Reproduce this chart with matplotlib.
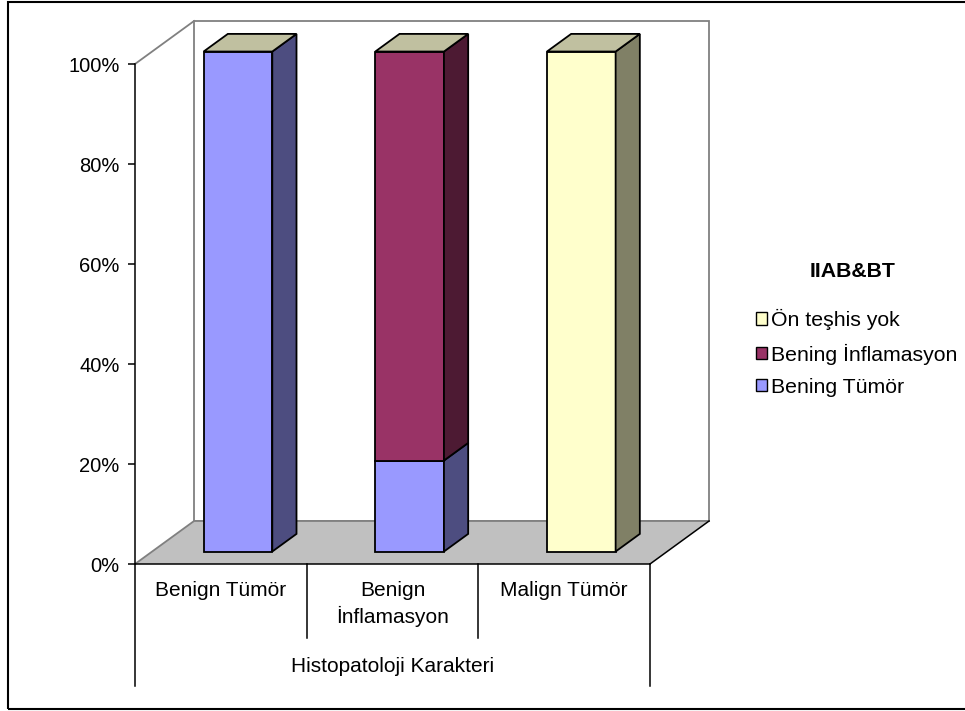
import matplotlib
matplotlib.use("Agg")
import matplotlib.pyplot as plt
from matplotlib.patches import Patch, Polygon, Rectangle
from matplotlib.lines import Line2D
import matplotlib.transforms as mtransforms

plt.rcParams["font.family"] = ["Liberation Sans", "DejaVu Sans"]

# Categories on the x axis and the stacked shares (%) of each series
categories = ["Benign Tümör", "Benign\nİnflamasyon", "Malign Tümör"]
axis_title = "Histopatoloji Karakteri"
legend_title = "IIAB&BT"
series_names = ["Bening Tümör", "Bening İnflamasyon", "Ön teşhis yok"]
bening_tumor = [100.0, 18.2, 0.0]
bening_inflamasyon = [0.0, 81.8, 0.0]
on_teshis_yok = [0.0, 0.0, 100.0]
y_ticks = [0, 20, 40, 60, 80, 100]

# front / side / top shades for each series
front_colors = ["#9999FF", "#993366", "#FFFFCC"]
side_colors = ["#4D4D80", "#4D1A33", "#808066"]
top_colors = ["#CCCCFF", "#C98CA8", "#C0C0A0"]

FS = 14.5
FS_CAT = 15
FS_LEG = 15.3
W, H, DPI = 965, 711, 100

# depth of the 3D box in data units (categories, percent)
DX, DY = 0.344, 8.6
BAR_W = 0.4
BAR_OFF = 0.29   # where the bar front sits inside the depth
BAR_DEPTH = 0.41

fig = plt.figure(figsize=(W / DPI, H / DPI), dpi=DPI)
ax = fig.add_axes([135 / W, (H - 564) / H, 515 / W, 500 / H])
ax.set_xlim(0, len(categories))
ax.set_ylim(0, 100)
ax.patch.set_visible(False)

gray = "#808080"
n = len(categories)

# back wall
wall = Polygon([(DX, DY), (n + DX, DY), (n + DX, 100 + DY), (DX, 100 + DY)],
               closed=True, facecolor="white", edgecolor=gray, lw=1.3,
               clip_on=False, zorder=1)
ax.add_patch(wall)
ax.add_line(Line2D([0, DX], [100, 100 + DY], color=gray, lw=1.3,
                   clip_on=False, zorder=1))

# floor
floor = Polygon([(0, 0), (n, 0), (n + DX, DY), (DX, DY)], closed=True,
                facecolor="#C0C0C0", edgecolor="none", clip_on=False, zorder=2)
ax.add_patch(floor)
ax.add_line(Line2D([0, DX, n + DX], [0, DY, DY], color=gray, lw=1.3,
                   clip_on=False, zorder=2))
ax.add_line(Line2D([n, n + DX], [0, DY], color="black", lw=1.1,
                   clip_on=False, zorder=2))

# stacked 3D columns
stack = [bening_tumor, bening_inflamasyon, on_teshis_yok]
ox, oy = BAR_OFF * DX, BAR_OFF * DY
bx, by = BAR_DEPTH * DX, BAR_DEPTH * DY
for i in range(n):
    c = i + 0.5
    x0, x1 = c - BAR_W / 2 + ox, c + BAR_W / 2 + ox
    bottom = 0.0
    for s, values in enumerate(stack):
        top = bottom + values[i]
        y0, y1 = bottom + oy, top + oy
        if values[i] > 0:
            ax.add_patch(Polygon([(x0, y0), (x1, y0), (x1, y1), (x0, y1)],
                                 facecolor=front_colors[s], edgecolor="black",
                                 lw=1.3, clip_on=False, zorder=3))
            ax.add_patch(Polygon([(x1, y0), (x1 + bx, y0 + by),
                                  (x1 + bx, y1 + by), (x1, y1)],
                                 facecolor=side_colors[s], edgecolor="black",
                                 lw=1.3, clip_on=False, zorder=3))
        bottom = top
    # lid of the last series sits on top of the stack
    y1 = bottom + oy
    s = len(stack) - 1
    ax.add_patch(Polygon([(x0, y1), (x1, y1), (x1 + bx, y1 + by),
                          (x0 + bx, y1 + by)],
                         facecolor=top_colors[s], edgecolor="black",
                         lw=1.3, clip_on=False, zorder=4))

# axes styling
for side in ["top", "right"]:
    ax.spines[side].set_visible(False)
ax.spines["left"].set_linewidth(1.1)
ax.spines["bottom"].set_linewidth(1.1)
ax.spines["left"].set_zorder(5)
ax.spines["bottom"].set_zorder(5)
ax.set_yticks(y_ticks)
ax.set_yticklabels([f"{t}%" for t in y_ticks], fontsize=FS)
ax.tick_params(axis="y", direction="out", length=5, width=1.1, pad=6)
ax.set_xticks([i + 0.5 for i in range(n)])
ax.set_xticklabels(categories, fontsize=FS_CAT, linespacing=1.35)
ax.tick_params(axis="x", length=0, pad=12)

# category table lines under the axis
trans = mtransforms.blended_transform_factory(ax.transData, ax.transAxes)
for k in range(n + 1):
    low = -0.244 if k in (0, n) else -0.148
    ax.add_line(Line2D([k, k], [0, low], transform=trans, color="black",
                       lw=1.1, clip_on=False))
ax.text(n / 2, -0.206, axis_title, transform=trans, ha="center",
        va="center", fontsize=FS_CAT)

# legend
handles = [Patch(facecolor=front_colors[s], edgecolor="black", lw=1.0,
                 label=series_names[s]) for s in reversed(range(len(stack)))]
fig.legend(handles=handles, loc="upper left",
           bbox_to_anchor=(756 / W, 1 - 309 / H), frameon=False,
           fontsize=FS_LEG, handlelength=0.5, handleheight=0.5,
           handletextpad=0.2, labelspacing=0.63,
           borderaxespad=0, borderpad=0)
fig.text(853 / W, 1 - 271 / H, legend_title, ha="center", va="center",
         fontsize=FS_LEG, fontweight="bold")

# outer frame
fig.add_artist(Rectangle((8 / W, 2 / H), 1.0, 1 - 4 / H,
                         transform=fig.transFigure, fill=False,
                         edgecolor="black", lw=1.5, clip_on=False))

fig.savefig("out.png", dpi=DPI)
